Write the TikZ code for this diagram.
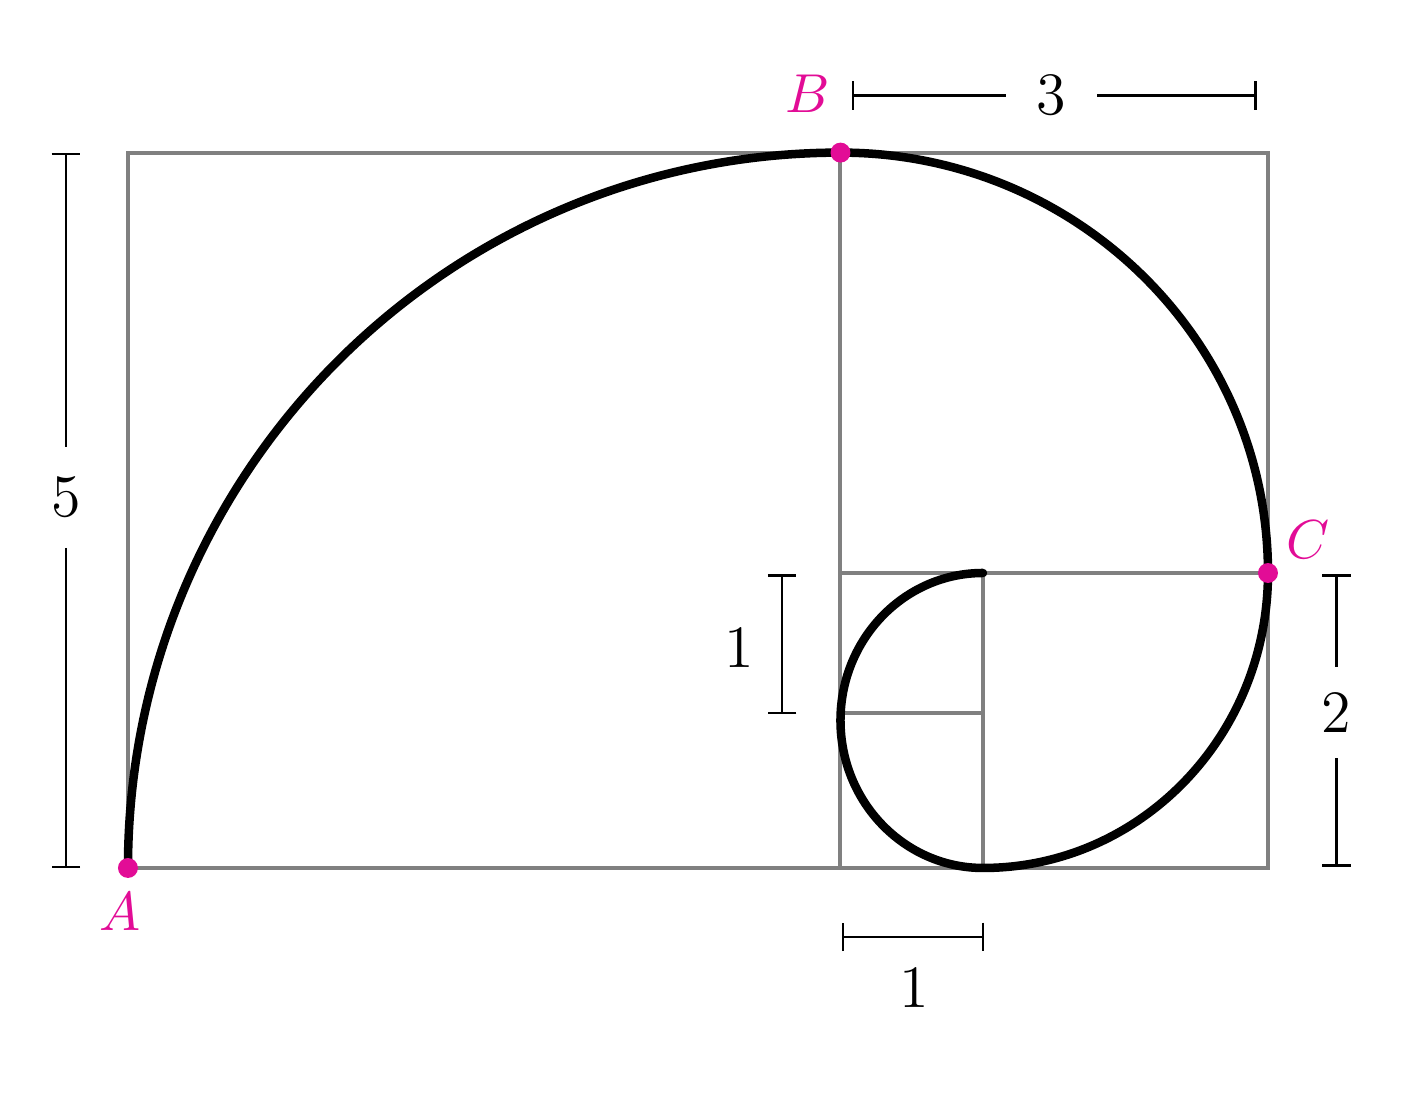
\documentclass[tikz,border=0pt]{standalone}
\usetikzlibrary{arrows.meta}
\definecolor{ptpink}{RGB}{226,12,150}
\definecolor{boxgray}{RGB}{128,128,128}
\tikzset{
box/.style={draw=boxgray,line width=0.8pt},
spiralline/.style={line width=1.7pt,line cap=round},
dimline/.style={line width=0.45pt},
dimlab/.style={inner sep=4pt,font=\fontsize{13}{16}\selectfont},
ptdot/.style={circle,fill=ptpink,inner sep=0pt,minimum size=0.14cm},
ptlab/.style={text=ptpink,font=\fontsize{10.5}{12}\selectfont}
}
\begin{document}
\begin{tikzpicture}
\useasboundingbox (-0.898,-1.649) rectangle (9.109,6.091);
%squares
\coordinate (A) at (0,0);
\coordinate (B) at (5,5.02);
\coordinate (C) at (8,2.07);
\draw[box] (0,0) rectangle (8,5.02);
\draw[box] (5,0) -- (5,5.02)
(5,2.07) -- (8,2.07)
(6,0) -- (6,2.07)
(5,1.09) -- (6,1.09);
%spiral
\draw[spiralline] (A) arc[start angle=180,end angle=90,x radius=5,y radius=5.02]
arc[start angle=90,end angle=0,x radius=3,y radius=2.95]
arc[start angle=0,end angle=-90,x radius=2,y radius=2.07]
arc[start angle=270,end angle=90,x radius=1,y radius=1.035];
\node[ptdot] (dA) at (A) {};
\node[ptdot] (dB) at (B) {};
\node[ptdot] (dC) at (C) {};
\node[ptlab] (lA) at (-0.056,-0.31) {$A$};
\node[ptlab] (lB) at (4.77,5.43) {$B$};
\node[ptlab] (lC) at (8.28,2.30) {$C$};
%left side
\coordinate (t5) at (-0.435,5.02);
\coordinate (b5) at (-0.435,0);
\node[dimlab,inner ysep=6pt] (n5) at (-0.435,2.6) {$5$};
\draw[dimline,{Bar[width=0.2cm]}-] (t5) -- (n5);
\draw[dimline,-{Bar[width=0.2cm]}] (n5) -- (b5);
%top side
\coordinate (l3) at (5.08,5.42);
\coordinate (r3) at (7.92,5.42);
\node[dimlab,inner xsep=6pt] (n3) at (6.48,5.42) {$3$};
\draw[dimline,{Bar[width=0.2cm]}-] (l3) -- (n3);
\draw[dimline,-{Bar[width=0.2cm]}] (n3) -- (r3);
%right side
\coordinate (t2) at (8.48,2.06);
\coordinate (b2) at (8.48,0.01);
\node[dimlab,inner ysep=5pt] (n2) at (8.48,1.09) {$2$};
\draw[dimline,{Bar[width=0.2cm]}-] (t2) -- (n2);
\draw[dimline,-{Bar[width=0.2cm]}] (n2) -- (b2);
%small squares
\coordinate (t1) at (4.59,2.06);
\coordinate (b1) at (4.59,1.08);
\draw[dimline,{Bar[width=0.2cm]}-{Bar[width=0.2cm]}] (t1) -- (b1);
\node[dimlab] (n1a) at (4.29,1.54) {$1$};
\coordinate (l1) at (5.01,-0.484);
\coordinate (r1) at (6.01,-0.484);
\draw[dimline,{Bar[width=0.2cm]}-{Bar[width=0.2cm]}] (l1) -- (r1);
\node[dimlab] (n1b) at (5.52,-0.84) {$1$};
\end{tikzpicture}
\end{document}
